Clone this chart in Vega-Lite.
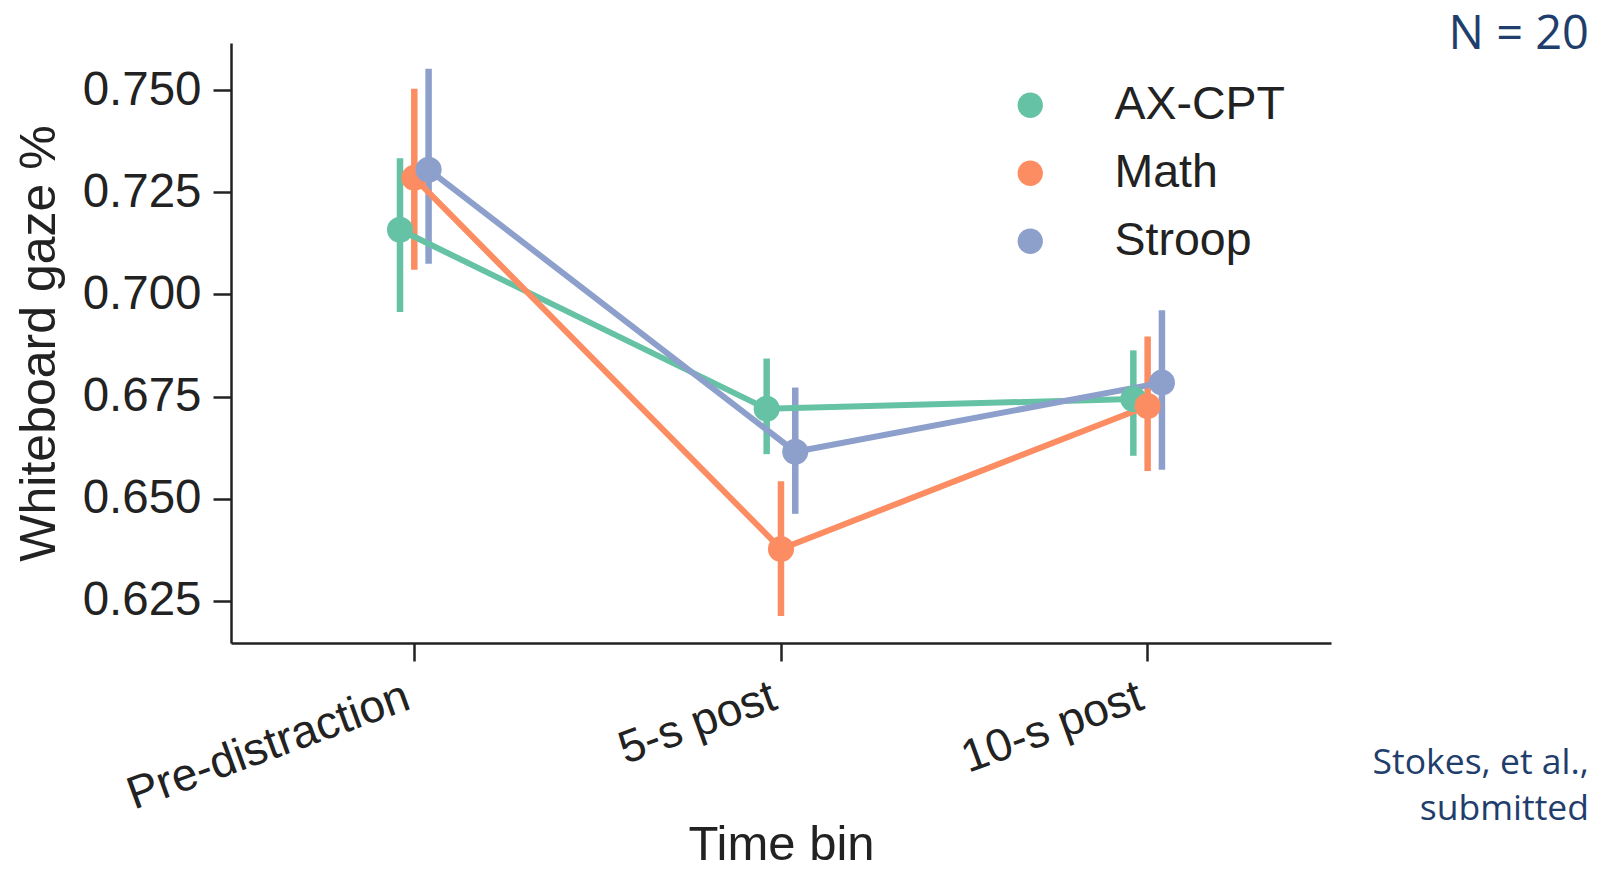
{
  "$schema": "https://vega.github.io/schema/vega-lite/v6.json",
  "width": 1100,
  "height": 600,
  "autosize": {"type": "none"},
  "padding": {"left": 231, "top": 43, "right": 274, "bottom": 231},
  "background": "white",
  "config": {
    "view": {"stroke": null},
    "font": "Liberation Sans",
    "axis": {
      "domainColor": "#222222", "domainWidth": 2.5,
      "tickColor": "#222222", "tickWidth": 2.5, "tickSize": 18,
      "labelFont": "Liberation Sans", "labelFontSize": 46, "labelColor": "#222222", "labelLimit": 0,
      "titleFont": "Liberation Sans", "titleFontSize": 50, "titleColor": "#222222", "titleFontWeight": "normal",
      "grid": false
    }
  },
  "title": {
    "text": "N = 20",
    "subtitle": ["Stokes, et al.,", "submitted"],
    "anchor": "end",
    "frame": "group",
    "orient": "top",
    "align": "right",
    "font": "Open Sans",
    "fontSize": 47,
    "fontWeight": "normal",
    "color": "#1f3e6b",
    "subtitleFont": "Open Sans",
    "subtitleFontSize": 35.5,
    "subtitleColor": "#1f3e6b",
    "subtitleLineHeight": 46,
    "subtitlePadding": 687,
    "offset": -790,
    "dx": 258,
    "dy": -5
  },
  "data": {
    "values": [
      {"bin": "Pre-distraction", "task": "AX-CPT", "mean": 0.7158, "lo": 0.6957, "hi": 0.7333},
      {"bin": "Pre-distraction", "task": "Math", "mean": 0.7285, "lo": 0.7060, "hi": 0.7503},
      {"bin": "Pre-distraction", "task": "Stroop", "mean": 0.7305, "lo": 0.7075, "hi": 0.7552},
      {"bin": "5-s post", "task": "AX-CPT", "mean": 0.6720, "lo": 0.6609, "hi": 0.6843},
      {"bin": "5-s post", "task": "Math", "mean": 0.6377, "lo": 0.6213, "hi": 0.6543},
      {"bin": "5-s post", "task": "Stroop", "mean": 0.6615, "lo": 0.6463, "hi": 0.6772},
      {"bin": "10-s post", "task": "AX-CPT", "mean": 0.6744, "lo": 0.6605, "hi": 0.6863},
      {"bin": "10-s post", "task": "Math", "mean": 0.6727, "lo": 0.6568, "hi": 0.6897},
      {"bin": "10-s post", "task": "Stroop", "mean": 0.6784, "lo": 0.6571, "hi": 0.6961}
    ]
  },
  "encoding": {
    "x": {
      "field": "bin", "type": "nominal",
      "sort": ["Pre-distraction", "5-s post", "10-s post"],
      "scale": {"paddingInner": 0, "paddingOuter": 0},
      "title": "Time bin",
      "axis": {"labelAngle": -20, "labelAlign": "right", "labelBaseline": "top", "labelPadding": 13, "labelOffset": -14, "titlePadding": 3, "titleFontSize": 49}
    },
    "xOffset": {
      "field": "task", "type": "nominal",
      "sort": ["AX-CPT", "Math", "Stroop"],
      "scale": {"type": "point", "range": [169, 197.6], "padding": 0}
    }
  },
  "layer": [
    {
      "mark": {"type": "rule", "strokeWidth": 6.5},
      "encoding": {
        "y": {
          "field": "lo", "type": "quantitative",
          "scale": {"domain": [0.6147, 0.7615], "nice": false, "zero": false},
          "title": "Whiteboard gaze %",
          "axis": {"values": [0.625, 0.65, 0.675, 0.7, 0.725, 0.75], "format": ".3f", "labelPadding": 12, "titlePadding": 18, "labelFontSize": 47.5}
        },
        "y2": {"field": "hi"},
        "color": {
          "field": "task", "type": "nominal",
          "scale": {"domain": ["AX-CPT", "Math", "Stroop"], "range": ["#66c2a5", "#fc8d62", "#8da0cb"]},
          "legend": null
        }
      }
    },
    {
      "mark": {"type": "line", "strokeWidth": 6},
      "encoding": {
        "y": {"field": "mean", "type": "quantitative", "title": "Whiteboard gaze %"},
        "color": {"field": "task", "type": "nominal", "legend": null}
      }
    },
    {
      "mark": {"type": "point", "filled": true, "size": 680, "opacity": 1},
      "encoding": {
        "y": {"field": "mean", "type": "quantitative", "title": "Whiteboard gaze %"},
        "color": {
          "field": "task", "type": "nominal",
          "legend": {
            "orient": "none", "legendX": 776, "legendY": 39, "title": null,
            "labelFont": "Liberation Sans", "labelFontSize": 46.5, "labelColor": "#222222", "labelLimit": 0,
            "symbolType": "circle", "symbolSize": 640, "symbolStrokeWidth": 0, "symbolOpacity": 1,
            "labelOffset": 61, "rowPadding": 21, "padding": 0
          }
        }
      }
    }
  ],
  "resolve": {"legend": {"color": "independent"}}
}
